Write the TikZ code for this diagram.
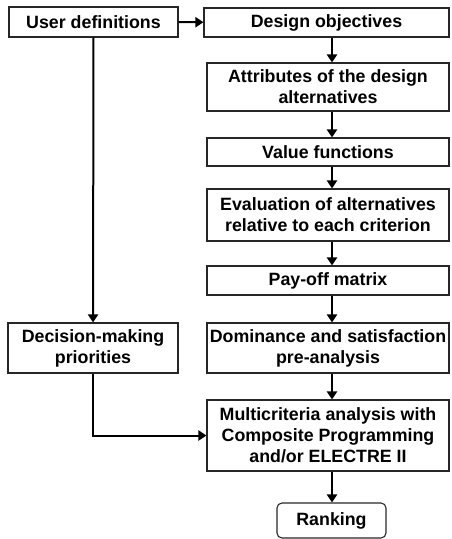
\documentclass[tikz,border=0pt]{standalone}
\usepackage{fontspec}
\setmainfont{Liberation Sans}
\usepackage{tikz}
\usetikzlibrary{arrows.meta, positioning}

\begin{document}
\begin{tikzpicture}[
  x=1pt, y=-1pt,
  stage/.style={rectangle, draw=black!85, line width=1.1pt, align=center,
                inner sep=0pt, font=\fontsize{17.8}{21}\selectfont\bfseries},
  result/.style={stage, rounded corners=5pt},
  flow/.style={line width=2pt, -{Triangle[length=8pt, width=10pt]}}
]
\useasboundingbox (0,0) rectangle (451,539);
% user side (left)
\node[stage, minimum width=169pt, minimum height=30pt] (user) at (93.5,22) {User definitions};
\node[stage, minimum width=170pt, minimum height=50pt] (prior) at (93,348) {Decision-making\\priorities};
% design chain (right)
\node[stage, minimum width=245pt, minimum height=29pt] (obj) at (326.5,22.5) {Design objectives};
\node[stage, minimum width=242pt, minimum height=48pt] (attr) at (328,87) {Attributes of the design\\alternatives};
\node[stage, minimum width=242pt, minimum height=28pt] (value) at (328,152) {Value functions};
\node[stage, minimum width=242pt, minimum height=52pt] (eval) at (328,215) {Evaluation of alternatives\\relative to each criterion};
\node[stage, minimum width=242pt, minimum height=29pt] (payoff) at (328,280.5) {Pay-off matrix};
\node[stage, minimum width=242pt, minimum height=50pt] (domin) at (328,348) {Dominance and satisfaction\\pre-analysis};
\node[stage, minimum width=242pt, minimum height=71pt] (multi) at (328,435.5) {Multicriteria analysis with\\Composite Programming\\and/or ELECTRE II};
\node[result, minimum width=109pt, minimum height=35pt] (rank) at (331.5,520.5) {Ranking};
% axis of the vertical arrows
\coordinate (axis) at (332,0);
% connectors
\draw[flow] (user) -- (obj);
\draw[flow] (user) -- (prior);
\draw[flow] (prior.south) |- (multi.west);
\draw[flow] (obj.south -| axis) -- (attr.north -| axis);
\draw[flow] (attr.south -| axis) -- (value.north -| axis);
\draw[flow] (value.south -| axis) -- (eval.north -| axis);
\draw[flow] (eval.south -| axis) -- (payoff.north -| axis);
\draw[flow] (payoff.south -| axis) -- (domin.north -| axis);
\draw[flow] (domin.south -| axis) -- (multi.north -| axis);
\draw[flow] (multi.south -| axis) -- (rank.north -| axis);
\end{tikzpicture}
\end{document}
